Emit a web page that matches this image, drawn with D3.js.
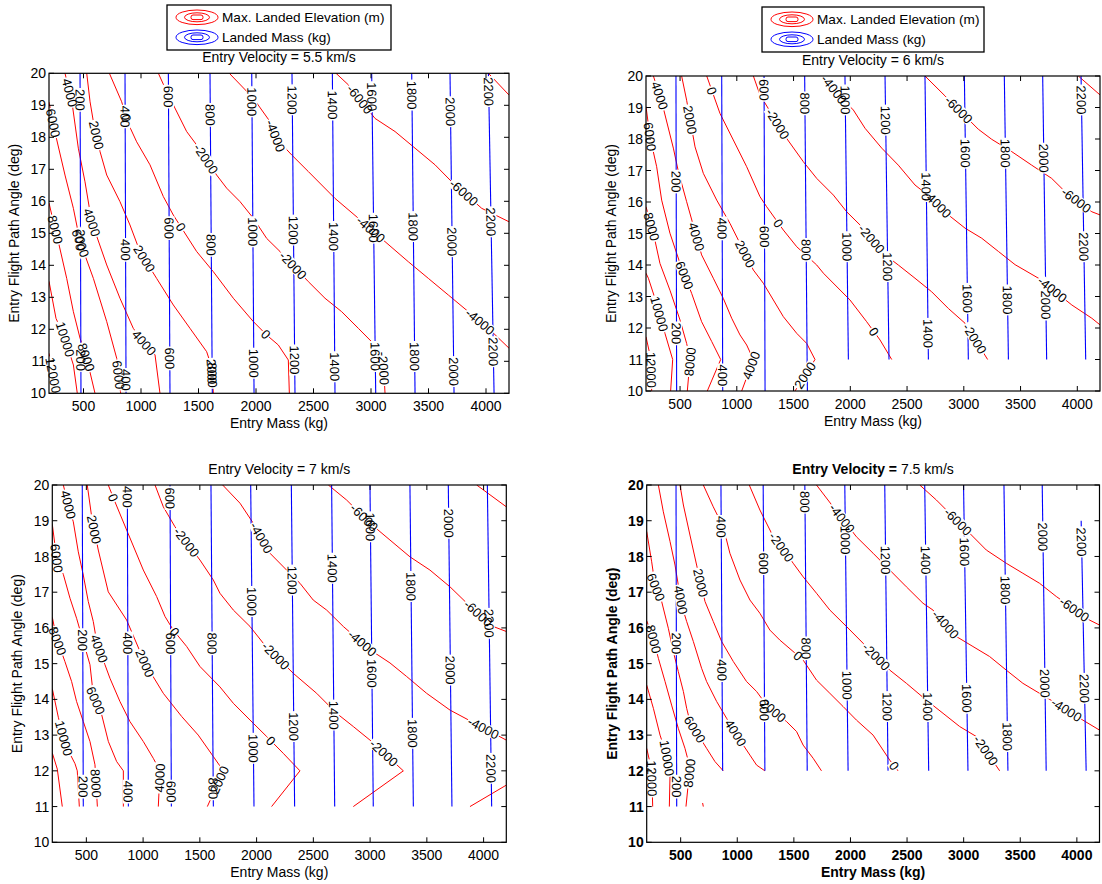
<!DOCTYPE html>
<html><head><meta charset="utf-8">
<script src="https://cdn.jsdelivr.net/npm/d3@7"></script>
<style>
body{margin:0;background:#fff;}
svg text{font-family:"Liberation Sans",Arial,Helvetica,sans-serif;fill:#000;}
</style></head><body>
<svg id="chart" width="1102" height="884"></svg>
<script>
// ---------------- DATA ----------------
const xTicks=[500,1000,1500,2000,2500,3000,3500,4000];
const yTicks=[10,11,12,13,14,15,16,17,18,19,20];
const xDomain=[200,4200];
const yDomain=[10,20];
const legendLabels=["Max. Landed Elevation (m)","Landed Mass (kg)"];
const panelTitles=["Entry Velocity = 5.5 km/s","Entry Velocity = 6 km/s","Entry Velocity = 7 km/s","Entry Velocity = 7.5 km/s"];
const xLabel="Entry Mass (kg)";
const yLabel="Entry Flight Path Angle (deg)";

// Max. landed elevation contours: [level, [[entry mass, entry angle], ...]]
const elev55=[
 [12000,[[200,11.25],[267,10]]],
 [10000,[[200,13.5],[261,12.34],[339,11.72],[412,10.885],[446,10]]],
 [8000,[[200,15.95],[238,15.36],[281,14.74],[354,13.59],[412,12.55],[470,11.72],[528,11.09],[600,10]]],
 [6000,[[200,19.1],[261,18.02],[339,16.82],[412,15.78],[470,14.74],[586,13.59],[702,12.24],[789,11.09],[823,10]]],
 [4000,[[339,20],[397,19.17],[455,17.66],[513,16.61],[571,15.36],[702,14.01],[817,12.97],[933,12.03],[1020,11.61],[1122,11.2],[1165,10]]],
 [2000,[[528,20],[557,19.11],[586,18.49],[644,17.55],[702,16.82],[817,15.99],[904,15.26],[991,14.43],[1136,13.59],[1281,12.76],[1426,12.03],[1571,11.3],[1614,10.83],[1629,10]]],
 [0,[[725,20],[832,19.11],[881,18.49],[962,17.86],[1078,17.14],[1194,16.15],[1281,15.57],[1354,15.16],[1484,14.43],[1629,13.8],[1803,12.97],[1977,12.24],[2093,11.82],[2194,11.51],[2281,11.04],[2290,10]]],
 [-2000,[[1151,20],[1223,19.43],[1397,18.18],[1484,17.76],[1658,16.82],[1745,16.41],[1861,15.99],[1977,15.47],[2093,14.84],[2209,14.43],[2455,13.49],[2600,12.97],[2745,12.55],[2890,12.03],[3006,11.61],[3108,10.94],[3122,10]]],
 [-4000,[[1768,20],[1977,19.22],[2122,18.49],[2180,17.95],[2310,17.45],[2455,16.93],[2687,16.09],[2890,15.47],[3122,14.74],[3325,14.11],[3499,13.59],[3673,13.07],[3847,12.55],[4050,11.93],[4200,11.41]]],
 [-6000,[[2696,20],[2803,19.64],[3035,18.59],[3209,18.18],[3383,17.66],[3557,17.14],[3702,16.61],[3963,15.78],[4200,15.36]]],
 [-8000,[[4021,20],[4200,19.32]]]
];
const elev60=[
 [12000,[[200,11.72],[244,11],[250,10]]],
 [10000,[[200,13.74],[221,13.58],[279,12.94],[367,11.83],[435,11],[417,10]]],
 [8000,[[200,15.85],[265,15.01],[323,14.05],[411,13.2],[500,12.25],[558,11.51],[588,11],[564,10]]],
 [6000,[[200,19.03],[235,18.07],[294,17.12],[338,16.06],[411,15.01],[500,14.05],[602,13.1],[690,12.2],[779,11.57],[858,11],[740,10]]],
 [4000,[[265,20],[338,19.19],[441,17.71],[485,16.97],[558,16.01],[690,14.32],[793,13.58],[881,12.94],[955,12.31],[1028,11.78],[1087,11.46],[1146,11],[1043,10]]],
 [2000,[[514,20],[558,19.23],[632,17.75],[705,16.91],[823,16.06],[940,15.32],[1058,14.47],[1146,13.84],[1234,13.42],[1410,12.36],[1528,11.83],[1616,11.51],[1689,11],[1513,10]]],
 [0,[[735,20],[852,18.81],[969,17.97],[1087,17.12],[1204,16.17],[1263,15.85],[1410,15.11],[1528,14.58],[1704,14],[1763,13.74],[1997,12.89],[2144,12.2],[2262,11.62],[2365,11]]],
 [-2000,[[1146,20],[1204,19.4],[1439,18.02],[1586,17.28],[1704,16.75],[1851,16.22],[1968,15.69],[2086,15.27],[2306,14.32],[2423,14],[2570,13.58],[2717,13.15],[2864,12.62],[3011,12.15],[3210,11]]],
 [-4000,[[1763,20],[1895,19.4],[2027,18.92],[2130,18.34],[2277,17.71],[2423,17.17],[2570,16.54],[2717,16.12],[2864,15.59],[3011,15.17],[3158,14.85],[3305,14.43],[3452,14.01],[3658,13.58],[3952,12.73],[4128,12.31],[4200,12.1]]],
 [-6000,[[2658,20],[2834,19.37],[3128,18.31],[3246,17.99],[3422,17.6],[3598,17.17],[3774,16.75],[3892,16.33],[4128,15.69],[4200,15.59]]],
 [-8000,[[4009,20],[4200,19.4]]]
];
const elev70=[
 [12000,[[200,12.5],[244,12.05],[288,11]]],
 [10000,[[200,14.3],[253,13.5],[320,12.7],[400,12.2],[420,12],[438,11]]],
 [8000,[[200,16.3],[238,15.71],[311,15.06],[370,14.5],[414,13.94],[473,13.38],[532,12.82],[576,12.17],[597,11]]],
 [6000,[[200,18.9],[238,17.95],[297,17.5],[356,16.83],[414,16.27],[473,15.62],[532,14.97],[561,14.13],[635,13.57],[694,12.82],[767,12.26],[826,12],[826,11]]],
 [4000,[[297,20],[341,19.44],[385,18.97],[429,18.13],[473,17.48],[517,16.74],[561,16.18],[591,15.62],[664,14.97],[708,14.59],[796,13.94],[884,13.38],[1002,12.82],[1090,12.35],[1149,12],[1134,11]]],
 [2000,[[508,20],[547,19.11],[605,18.18],[693,17.01],[855,16.22],[1017,15.01],[1178,14.17],[1340,13.52],[1486,13],[1619,12.4],[1707,12],[1566,11]]],
 [0,[[693,20],[752,19.53],[855,18.74],[1002,17.62],[1119,16.88],[1193,16.32],[1266,15.94],[1384,15.48],[1501,14.92],[1677,14.35],[1795,13.89],[1971,13.33],[2089,12.96],[2235,12.49],[2382,12],[2132,11]]],
 [-2000,[[1105,20],[1178,19.39],[1281,18.83],[1501,17.9],[1619,17.34],[1677,16.97],[1795,16.5],[1942,16.04],[2059,15.57],[2323,14.73],[2529,14.17],[2705,13.61],[2852,13.24],[2999,12.86],[3293,12],[2852,11]]],
 [-4000,[[1701,20],[1854,19.49],[1971,18.93],[2118,18.09],[2264,17.62],[2382,17.25],[2499,16.78],[2617,16.5],[2764,16.04],[2999,15.39],[3175,15.02],[3322,14.64],[3498,14.17],[3704,13.7],[4200,12.86]]],
 [-4000,[[3880,11],[4200,11.6]]],
 [-6000,[[2632,20],[2793,19.58],[2999,18.93],[3175,18.46],[3351,17.99],[3527,17.62],[3704,17.15],[3850,16.7],[4085,16.04],[4200,15.9]]],
 [-8000,[[3939,20],[4200,19.39]]]
];
const elev75=[
 [12000,[[200,12.63],[244,12.02],[253,11]]],
 [10000,[[200,14.4],[259,13.75],[318,13],[376,12.44],[406,11.88],[400,11]]],
 [8000,[[200,16.2],[259,15.7],[303,15.15],[362,14.5],[420,13.84],[479,13.19],[538,12.63],[582,12.1],[547,11]]],
 [6000,[[200,18.7],[244,17.85],[274,17.2],[332,16.74],[391,15.99],[435,15.34],[479,14.78],[524,14.22],[553,13.75],[582,13.38],[729,12.63],[803,12.26],[876,12]]],
 [6000,[[694,11.1],[700,11]]],
 [4000,[[303,20],[347,19.25],[406,18.42],[450,17.76],[479,17.2],[509,16.64],[553,16.18],[612,15.62],[685,14.87],[729,14.5],[818,13.94],[906,13.47],[979,13.1],[1053,12.72],[1112,12.44],[1171,12.16],[1244,12]]],
 [2000,[[494,20],[524,19.44],[582,18.6],[641,17.76],[715,16.74],[788,16.18],[862,15.62],[965,15.06],[1082,14.5],[1171,14.22],[1259,13.84],[1435,13.38],[1524,13.1],[1582,12.72],[1671,12.35],[1744,12]]],
 [0,[[700,20],[788,19.39],[876,18.83],[935,18.09],[1024,17.34],[1112,16.78],[1200,16.41],[1288,15.94],[1376,15.66],[1582,15.1],[1700,14.54],[1818,14.17],[1935,13.8],[2053,13.42],[2200,13],[2347,12.3],[2420,12]]],
 [-2000,[[1106,20],[1200,19.3],[1303,18.65],[1494,17.81],[1582,17.43],[1700,16.97],[1818,16.5],[1965,16.04],[2112,15.57],[2347,14.82],[2494,14.45],[2670,13.98],[2818,13.61],[2965,13.24],[3112,12.96],[3318,12]]],
 [-4000,[[1700,20],[1847,19.39],[2053,18.55],[2200,18.09],[2347,17.62],[2494,17.15],[2641,16.69],[2729,16.5],[2935,15.76],[3082,15.48],[3229,15.2],[3376,14.82],[3523,14.45],[3670,14.17],[3818,13.89],[4053,13.42],[4200,13.14]]],
 [-6000,[[2612,20],[2759,19.58],[3053,18.65],[3200,18.18],[3376,17.81],[3523,17.53],[3670,17.25],[3818,16.88],[4112,16.22],[4200,16.08]]]
];

// Landed mass contours: [level, [[entry mass, entry angle], ...]]
const mass55=[
 [200,[[470,20],[478,10]]],[400,[[861,20],[870,10]]],[600,[[1238,20],[1252,10]]],[800,[[1600,20],[1620,10]]],
 [1000,[[1963,20],[1983,10]]],[1200,[[2313,20],[2339,10]]],[1400,[[2664,20],[2687,10]]],[1600,[[3006,20],[3041,10]]],
 [1800,[[3354,20],[3383,10]]],[2000,[[3687,20],[3722,10]]],[2200,[[4021,20],[4070,10]]]
];
const mass60=[
 [200,[[464,20],[470,10]]],[400,[[867,20],[876,10]]],[600,[[1240,20],[1249,10]]],[800,[[1598,20],[1622,10]]],
 [1000,[[1953,20],[1983,11]]],[1200,[[2306,20],[2341,11]]],[1400,[[2658,20],[2688,11]]],[1600,[[3005,20],[3040,11]]],
 [1800,[[3357,20],[3393,11]]],[2000,[[3695,20],[3730,11]]],[2200,[[4033,20],[4074,11]]]
];
const mass70=[
 [200,[[464,20],[473,11]]],[400,[[861,20],[870,11]]],[600,[[1237,20],[1249,11]]],[800,[[1598,20],[1619,11]]],
 [1000,[[1948,20],[1977,11]]],[1200,[[2306,20],[2335,11]]],[1400,[[2661,20],[2688,11]]],[1600,[[2999,20],[3028,11]]],
 [1800,[[3351,20],[3381,11]]],[2000,[[3689,20],[3721,11]]],[2200,[[4033,20],[4071,11]]]
];
const mass75=[
 [200,[[459,20],[465,11]]],[400,[[856,20],[871,12]]],[600,[[1229,20],[1244,12]]],[800,[[1597,20],[1618,12]]],
 [1000,[[1950,20],[1979,12]]],[1200,[[2303,20],[2332,12]]],[1400,[[2656,20],[2691,12]]],[1600,[[2999,20],[3038,12]]],
 [1800,[[3356,20],[3391,12]]],[2000,[[3694,20],[3729,12]]],[2200,[[4038,19],[4082,12]]]
];

// Elevation contour labels: [level, mass, angle]
const elevLab55=[[12000,238,10.57],[10000,325,11.67],[8000,238,15.1],[8000,542,11.15],[6000,229,18.44],[6000,470,14.69],[6000,789,10.57],
 [4000,354,19.375],[4000,586,15.36],[4000,1035,11.61],[2000,615,18.07],[2000,1035,14.22],[2000,1620,10.625],[0,875,18.6],[0,1354,15.21],[0,2093,11.875],
 [-2000,1548,17.29],[-2000,2310,13.96],[-2000,3108,10.78],[-4000,2151,18.02],[-4000,2992,15.1],[-4000,3948,12.24],[-6000,2876,19.11],[-6000,3789,16.2]];
const elevLab60=[[12000,250,10.67],[10000,279,12.41],[8000,250,15.22],[8000,588,10.93],[6000,235,18.07],[6000,544,13.68],[4000,338,19.4],[4000,646,14.9],[4000,1160,10.77],
 [2000,573,18.6],[2000,1058,14.32],[2000,1601,10.5],[0,779,19.53],[0,1366,15.32],[0,2197,11.85],[-2000,1366,18.5],[-2000,2174,14.79],[-2000,3099,11.67],
 [-4000,1850,19.56],[-4000,2776,15.96],[-4000,3774,13.2],[-6000,2952,18.92],[-6000,3980,16.01]];
const elevLab70=[[4000,326,19.44],[6000,238,17.95],[8000,238,15.62],[10000,297,12.91],[2000,547,18.74],[4000,620,15.43],[6000,561,13.94],[8000,582,11.65],
 [0,723,19.63],[2000,1017,15.01],[4000,1140,11.8],[-2000,1369,18.37],[0,1281,15.9],[2000,1677,11.74],[-4000,2059,18.55],[-2000,2162,15.2],[0,2132,12.86],
 [-6000,2910,18.97],[-4000,2955,15.66],[-2000,3131,12.54],[-6000,3939,16.36],[-4000,4012,13.28]];
const elevLab75=[[12000,244,11.79],[10000,362,12.35],[8000,229,15.66],[8000,597,11.93],[6000,288,17.15],[6000,641,13.19],[4000,494,16.78],[4000,1024,13.14],
 [2000,656,17.25],[2000,1347,13.8],[0,1518,15.15],[0,2376,12.12],[-2000,1391,18.27],[-2000,2229,15.2],[-2000,3200,12.58],[-4000,1906,19.02],[-4000,2832,16.08],
 [-4000,3906,13.7],[-6000,2935,18.93],[-6000,3965,16.46]];

// Landed mass contour labels: [level, angle]
const massLab55=[[200,19.17],[200,14.79],[200,11.04],[400,18.65],[400,14.48],[400,10.42],[600,19.27],[600,15.16],[600,11.09],[800,18.7],[800,14.64],[800,10.625],
 [1000,19.11],[1000,15.05],[1000,10.94],[1200,19.17],[1200,15.1],[1200,11.04],[1400,19.01],[1400,14.9],[1400,10.83],[1600,19.27],[1600,15.16],[1600,11.15],
 [1800,19.32],[1800,15.21],[1800,11.15],[2000,18.8],[2000,14.74],[2000,10.68],[2200,19.43],[2200,15.36],[2200,11.3]];
const massLab60=[[200,16.65],[200,11.83],[400,15.16],[400,10.5],[600,19.56],[600,14.9],[800,19.13],[800,14.48],[1000,19.24],[1000,14.58],[1200,18.6],[1200,13.95],
 [1400,16.49],[1400,11.83],[1600,17.55],[1600,12.94],[1800,17.55],[1800,12.89],[2000,17.39],[2000,12.73],[2200,19.24],[2200,14.58]];
const massLab70=[[200,15.66],[200,11.56],[400,19.67],[400,15.57],[400,11.42],[600,19.63],[600,15.57],[600,11.42],[800,15.57],[800,11.51],[1000,16.74],[1000,12.63],
 [1200,17.34],[1200,13.24],[1400,17.67],[1400,13.56],[1600,18.83],[1600,14.73],[1800,17.16],[1800,13.05],[2000,18.93],[2000,14.82],[2200,16.13],[2200,12.07]];
const massLab75=[[200,15.57],[200,11.56],[400,18.83],[400,14.82],[600,17.81],[600,13.7],[800,19.53],[800,15.43],[1000,18.46],[1000,14.4],[1200,17.9],[1200,13.8],
 [1400,17.9],[1400,13.8],[1600,18.13],[1600,14.03],[1800,17.06],[1800,12.96],[2000,18.55],[2000,14.45],[2200,18.41],[2200,14.31]];

// ---------------- LAYOUT ----------------
const panels=[
 {title:panelTitles[0],elev:elev55,mass:mass55,elevLab:elevLab55,massLab:massLab55,box:{l:49,r:509,t:73.3,b:393.3},legend:{x:167,y:5,w:224,h:45},bold:false},
 {title:panelTitles[1],elev:elev60,mass:mass60,elevLab:elevLab60,massLab:massLab60,box:{l:646,r:1100,t:76,b:391},legend:{x:762,y:7,w:222,h:45},bold:false},
 {title:panelTitles[2],elev:elev70,mass:mass70,elevLab:elevLab70,massLab:massLab70,box:{l:52.3,r:506.3,t:485,b:842.3},legend:null,bold:false},
 {title:panelTitles[3],elev:elev75,mass:mass75,elevLab:elevLab75,massLab:massLab75,box:{l:646.7,r:1099.5,t:485,b:842.3},legend:null,bold:true}
];
const RED="#ff0000", BLUE="#0000ff";
const svg=d3.select("#chart");

function snap(px,py,polys){
  let best=null;
  polys.forEach(pts=>{
    for(let i=0;i<pts.length-1;i++){
      const [x1,y1]=pts[i],[x2,y2]=pts[i+1];
      const dx=x2-x1,dy=y2-y1,L2=dx*dx+dy*dy||1;
      let t=((px-x1)*dx+(py-y1)*dy)/L2; t=Math.max(0,Math.min(1,t));
      const qx=x1+t*dx,qy=y1+t*dy,d=(qx-px)**2+(qy-py)**2;
      if(!best||d<best.d) best={d,x:qx,y:qy,ang:Math.atan2(dy,dx)*180/Math.PI};
    }
  });
  let a=best.ang; if(a>90)a-=180; if(a<-90)a+=180; best.ang=a;
  return best;
}

panels.forEach((p,pi)=>{
  const g=svg.append("g");
  const x=d3.scaleLinear().domain(xDomain).range([p.box.l,p.box.r]);
  const y=d3.scaleLinear().domain(yDomain).range([p.box.b,p.box.t]);
  const line=d3.line().x(d=>x(d[0])).y(d=>y(d[1]));
  const cid="clip"+pi;
  svg.append("defs").append("clipPath").attr("id",cid).append("rect")
    .attr("x",p.box.l).attr("y",p.box.t).attr("width",p.box.r-p.box.l).attr("height",p.box.b-p.box.t);
  const plot=g.append("g").attr("clip-path",`url(#${cid})`);
  plot.selectAll("path.e").data(p.elev).join("path").attr("class","e")
    .attr("d",d=>line(d[1])).attr("fill","none").attr("stroke",RED).attr("stroke-width",1);
  plot.selectAll("path.m").data(p.mass).join("path").attr("class","m")
    .attr("d",d=>line(d[1])).attr("fill","none").attr("stroke",BLUE).attr("stroke-width",1.1);

  // labels
  const rectG=g.append("g"), textG=g.append("g");
  const labs=[];
  p.elevLab.forEach(([lev,m,a])=>{
    const polys=p.elev.filter(d=>d[0]===lev).map(d=>d[1].map(q=>[x(q[0]),y(q[1])]));
    const s=snap(x(m),y(a),polys);
    labs.push({t:String(lev),x:s.x,y:s.y,ang:s.ang});
  });
  p.massLab.forEach(([lev,a])=>{
    const pts=p.mass.find(d=>d[0]===lev)[1];
    let m=pts[0][0];
    for(let i=0;i<pts.length-1;i++){
      const [m1,a1]=pts[i],[m2,a2]=pts[i+1];
      if((a-a1)*(a-a2)<=0){m=m1+(a-a1)/(a2-a1||1)*(m2-m1);break;}
    }
    const s=snap(x(m),y(a),[pts.map(q=>[x(q[0]),y(q[1])])]);
    labs.push({t:String(lev),x:s.x,y:s.y,ang:s.ang});
  });
  labs.forEach(L=>{
    const tr=`translate(${L.x},${L.y}) rotate(${L.ang})`;
    const t=textG.append("text").attr("transform",tr).attr("text-anchor","middle")
      .attr("dy","0.36em").attr("font-size",13).text(L.t);
    const w=t.node().getComputedTextLength();
    rectG.append("rect").attr("transform",tr).attr("x",-w/2-1).attr("y",-5.5).attr("width",w+2).attr("height",11).attr("fill","#fff");
  });

  // frame and ticks
  const fw=p.bold?"bold":"normal";
  g.append("rect").attr("x",p.box.l).attr("y",p.box.t).attr("width",p.box.r-p.box.l).attr("height",p.box.b-p.box.t)
    .attr("fill","none").attr("stroke","#000").attr("stroke-width",1.2);
  const tl=5;
  xTicks.forEach(v=>{
    g.append("line").attr("x1",x(v)).attr("x2",x(v)).attr("y1",p.box.b).attr("y2",p.box.b-tl).attr("stroke","#000");
    g.append("line").attr("x1",x(v)).attr("x2",x(v)).attr("y1",p.box.t).attr("y2",p.box.t+tl).attr("stroke","#000");
    g.append("text").attr("x",x(v)).attr("y",p.box.b+18).attr("text-anchor","middle").attr("font-size",14).attr("font-weight",fw).text(v);
  });
  yTicks.forEach(v=>{
    g.append("line").attr("x1",p.box.l).attr("x2",p.box.l+tl).attr("y1",y(v)).attr("y2",y(v)).attr("stroke","#000");
    g.append("line").attr("x1",p.box.r).attr("x2",p.box.r-tl).attr("y1",y(v)).attr("y2",y(v)).attr("stroke","#000");
    g.append("text").attr("x",p.box.l-3).attr("y",y(v)).attr("dy","0.36em").attr("text-anchor","end").attr("font-size",14).attr("font-weight",fw).text(v);
  });
  const cx=(p.box.l+p.box.r)/2, cy=(p.box.t+p.box.b)/2;
  g.append("text").attr("x",cx).attr("y",p.box.b+35).attr("text-anchor","middle").attr("font-size",14).attr("font-weight",fw).text(xLabel);
  g.append("text").attr("transform",`translate(${p.box.l-30},${cy}) rotate(-90)`).attr("text-anchor","middle").attr("font-size",14).attr("font-weight",fw).text(yLabel);
  const tt=g.append("text").attr("x",cx).attr("y",p.box.t-11.5).attr("text-anchor","middle").attr("font-size",14);
  if(p.bold){
    const k=p.title.indexOf("=");
    tt.append("tspan").attr("font-weight","bold").text(p.title.slice(0,k+1)+" ");
    tt.append("tspan").text(p.title.slice(k+2));
  } else tt.text(p.title);

  // legend
  if(p.legend){
    const L=p.legend;
    const lg=g.append("g");
    lg.append("rect").attr("x",L.x).attr("y",L.y).attr("width",L.w).attr("height",L.h).attr("fill","#fff").attr("stroke","#000").attr("stroke-width",1.3);
    [RED,BLUE].forEach((c,i)=>{
      const ry=L.y+12.3+i*20, ix=L.x+30;
      lg.append("ellipse").attr("cx",ix).attr("cy",ry).attr("rx",21).attr("ry",7.3).attr("fill","none").attr("stroke",c);
      lg.append("ellipse").attr("cx",ix).attr("cy",ry).attr("rx",12.5).attr("ry",4.5).attr("fill","none").attr("stroke",c);
      lg.append("rect").attr("x",ix-6).attr("y",ry-2.3).attr("width",12).attr("height",4.6).attr("rx",2).attr("fill","none").attr("stroke",c);
      lg.append("text").attr("x",L.x+55).attr("y",ry+5).attr("font-size",13.6).text(legendLabels[i]);
    });
  }
});
</script>
</body></html>
